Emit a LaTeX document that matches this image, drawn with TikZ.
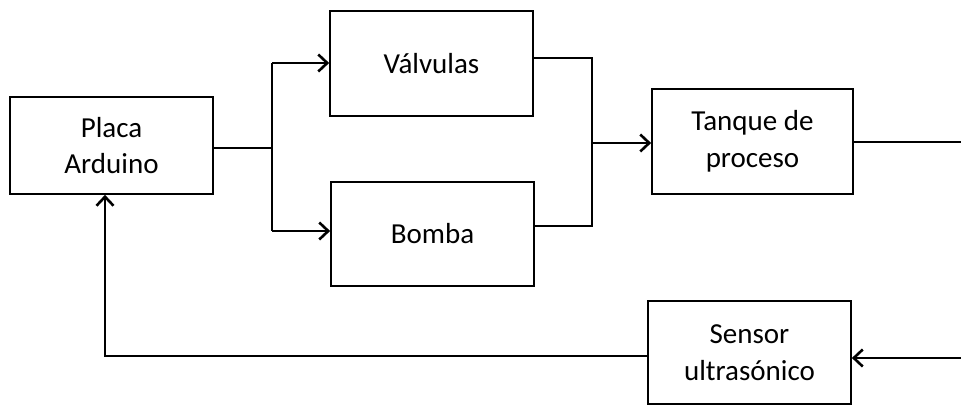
\documentclass[tikz,border=0pt]{standalone}
\usepackage{fontspec}
\setmainfont{Carlito}
\usetikzlibrary{arrows.meta}
\begin{document}
\begin{tikzpicture}[x=1pt,y=-1pt,
  blk/.style={draw, line width=1.7pt, inner sep=0pt, align=center,
    font=\fontsize{29}{36.5}\selectfont},
  conn/.style={line width=2.6pt},
  thinconn/.style={line width=1.7pt},
  arr/.style={-{Straight Barb[length=9pt,width=17pt,line width=2.6pt]}}]
\useasboundingbox (0,0) rectangle (961,406);
\node[blk, minimum width=203pt, minimum height=97pt] (ard) at (111.5,145.5) {Placa\\Arduino};
\node[blk, minimum width=203pt, minimum height=105pt] (val) at (431.5,63.5) {Válvulas};
\node[blk, minimum width=203pt, minimum height=104pt] (bom) at (432.5,234) {Bomba};
\node[blk, minimum width=201pt, minimum height=105pt] (tan) at (752.5,141.5) {Tanque de\\proceso};
\node[blk, minimum width=203pt, minimum height=103pt] (sen) at (749.5,352.5) {Sensor\\ultrasónico};
\coordinate (j1) at (272,148);
\coordinate (j1t) at (272,63);
\coordinate (j1b) at (272,231);
\coordinate (j2t) at (592,58);
\coordinate (j2b) at (592,226);
\coordinate (j2m) at (592,143);
\coordinate (outr) at (961,142);
\coordinate (inr) at (961,358);
\coordinate (fb) at (105,356);
\draw[conn] (j1 -| ard.east) -- (j1);
\draw[conn] (j1t) -- (j1b);
\draw[conn,arr] (j1t) -- (j1t -| val.west);
\draw[conn,arr] (j1b) -- (j1b -| bom.west);
\draw[thinconn] (j2t -| val.east) -- (j2t) -- (j2b) -- (j2b -| bom.east);
\draw[conn,arr] (j2m) -- (j2m -| tan.west);
\draw[thinconn] (outr -| tan.east) -- (outr);
\draw[conn,arr] (inr) -- (inr -| sen.east);
\draw[conn,arr] (fb -| sen.west) -- (fb) -- (fb |- ard.south);
\end{tikzpicture}
\end{document}
